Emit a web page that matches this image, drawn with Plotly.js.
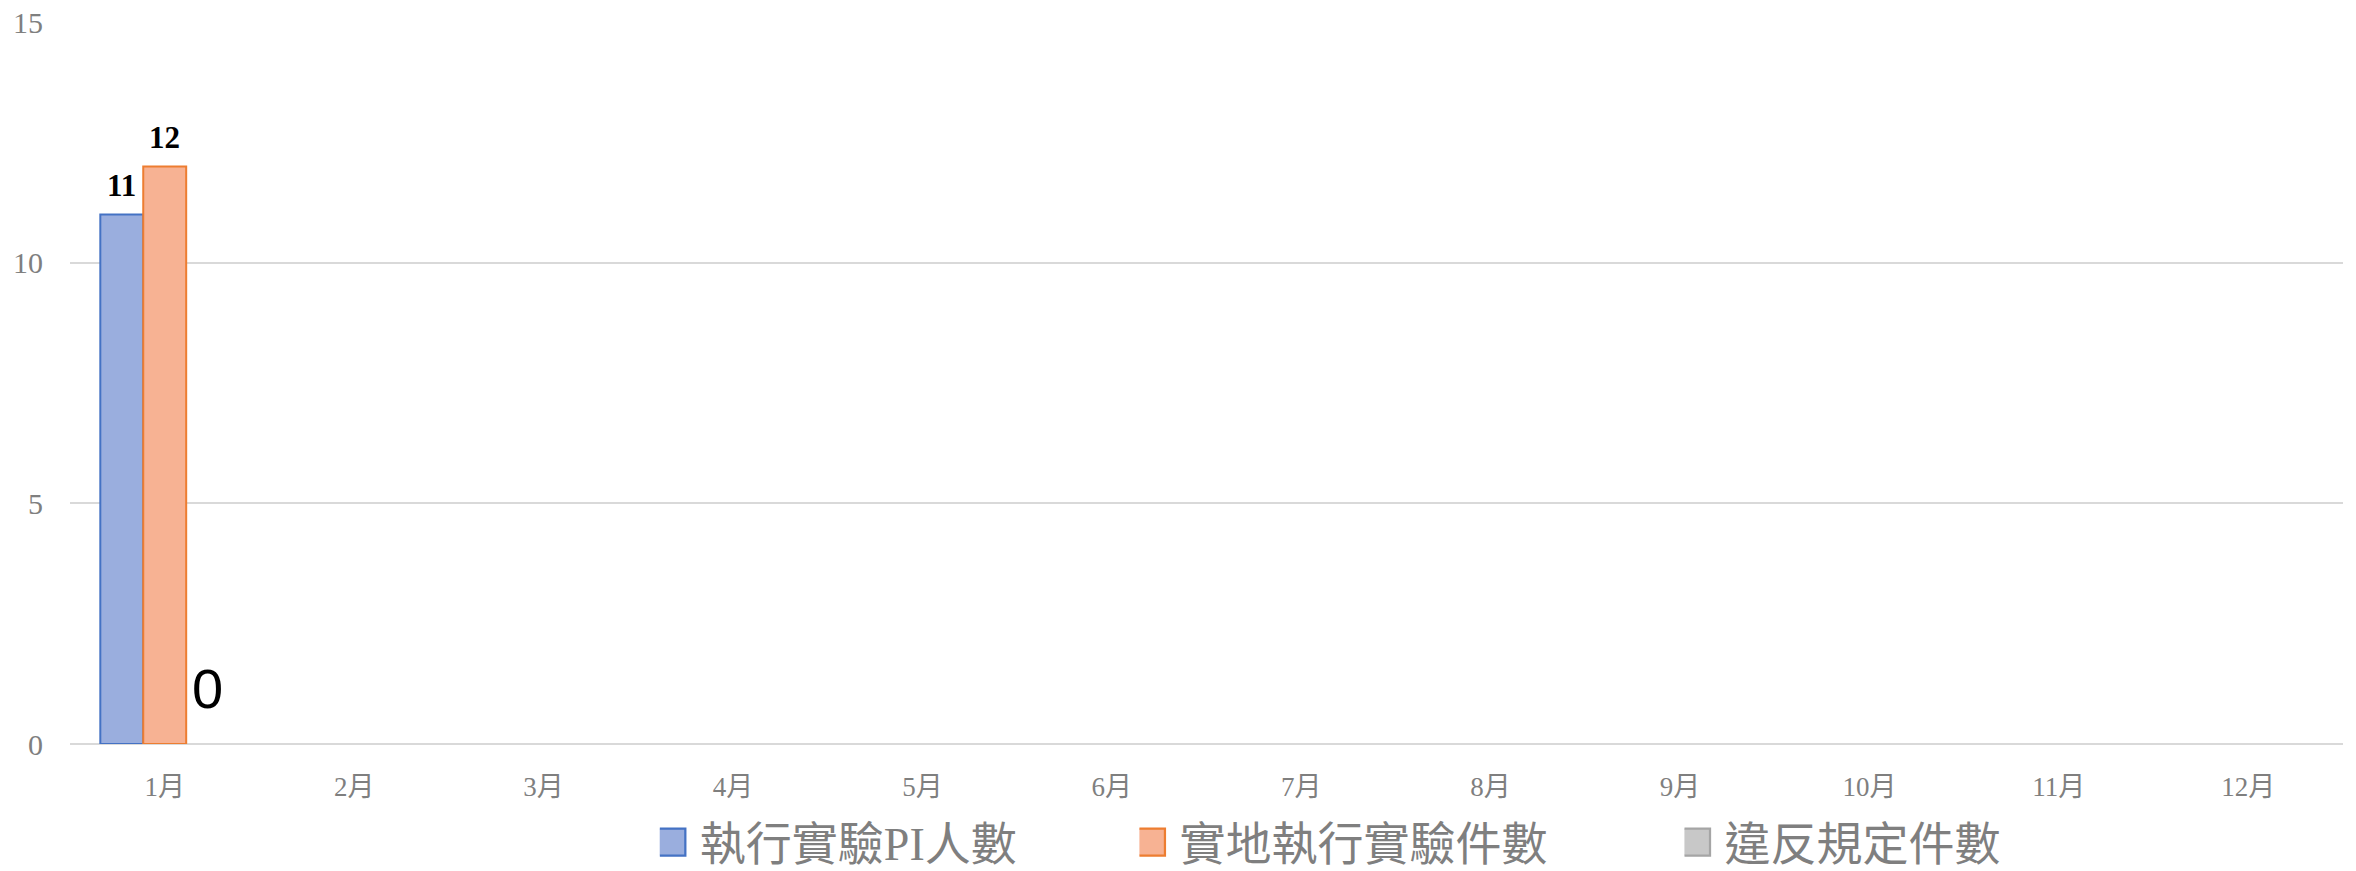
<!DOCTYPE html>
<html>
<head>
<meta charset="utf-8">
<script src="https://cdn.plot.ly/plotly-3.0.1.min.js"></script>
<style>
html,body{margin:0;padding:0;background:#fff;}
#chart{width:2356px;height:871px;}
</style>
</head>
<body>
<div id="chart"></div>
<script>
// ---- data ----
const months = ['1月','2月','3月','4月','5月','6月','7月','8月','9月','10月','11月','12月'];
const seriesNames = ['執行實驗PI人數','實地執行實驗件數','違反規定件數'];
const piCounts = [11, null, null, null, null, null, null, null, null, null, null, null];
const onsiteCounts = [12, null, null, null, null, null, null, null, null, null, null, null];
const violationCounts = [0, null, null, null, null, null, null, null, null, null, null, null];
const yTicks = [0, 5, 10, 15];

// ---- styles ----
const fills = ['#9aaede', '#f7b293', '#c8c8c8'];
const borders = ['#4472c4', '#ed7d31', '#a5a5a5'];
const labelFonts = [
  {family:'Liberation Serif, Times New Roman, serif', size:31, color:'#000', weight:'bold'},
  {family:'Liberation Serif, Times New Roman, serif', size:31, color:'#000', weight:'bold'},
  {family:'Liberation Sans, Arial, sans-serif', size:56, color:'#000'}
];
const labelLift = [29, 29, 56];
const margin = {l:70, r:13, t:22, b:127};
const W = 2356, H = 871;
const bargap = 0.32;
const serifCJK = "'Liberation Serif', 'Noto Sans CJK TC', serif";

const allValues = [piCounts, onsiteCounts, violationCounts];
const legendIds = ['legend', 'legend2', 'legend3'];
const legendX = [0.2595, 0.4705, 0.7103];

const traces = allValues.map((vals, i) => ({
  type: 'bar',
  name: seriesNames[i],
  x: months,
  y: vals,
  legend: legendIds[i],
  // no outline on zero-height bars
  marker: {color: fills[i], line: {color: borders[i], width: vals.map(v => (v ? 2 : 0))}},
  hoverinfo: 'x+y+name'
}));

// data labels built from the series values
const plotW = W - margin.l - margin.r;
const catW = plotW / months.length;
const barW = catW * (1 - bargap) / allValues.length;
const annotations = [];
allValues.forEach((vals, i) => {
  vals.forEach((v, j) => {
    if (v === null || v === undefined) return;
    annotations.push({
      x: months[j], y: v, xref: 'x', yref: 'y',
      text: String(v), showarrow: false,
      xanchor: 'center', yanchor: 'middle',
      xshift: (i - (allValues.length - 1) / 2) * barW,
      yshift: labelLift[i],
      font: labelFonts[i]
    });
  });
});

const legendBase = {
  orientation: 'h', xref: 'paper', yref: 'paper',
  xanchor: 'left', yanchor: 'middle', y: -0.136,
  bgcolor: 'rgba(0,0,0,0)', borderwidth: 0,
  font: {family: serifCJK, size: 46, color: '#7f7f7f'}
};

const layout = {
  width: W, height: H,
  margin: Object.assign({pad: 0, autoexpand: false}, margin),
  paper_bgcolor: '#fff', plot_bgcolor: '#fff',
  barmode: 'group', bargap: bargap, bargroupgap: 0,
  showlegend: true,
  xaxis: {
    type: 'category',
    categoryarray: months,
    showgrid: false, zeroline: false, showline: false,
    ticks: '', ticklabelstandoff: 24,
    tickfont: {family: serifCJK, size: 27, color: '#7f7f7f'}
  },
  yaxis: {
    range: [0, 15],
    tickvals: yTicks, ticktext: yTicks.map(String),
    showgrid: true, gridcolor: '#d9d9d9', gridwidth: 2,
    zeroline: true, zerolinecolor: '#d9d9d9', zerolinewidth: 2,
    showline: false, ticks: '', ticklabelstandoff: 26,
    tickfont: {family: "'Liberation Serif', serif", size: 30, color: '#7f7f7f'}
  },
  annotations: annotations
};
legendIds.forEach((id, i) => {
  layout[id] = Object.assign({}, legendBase, {x: legendX[i]});
});

Plotly.newPlot('chart', traces, layout, {displayModeBar: false, staticPlot: true}).then(gd => {
  // enlarge legend swatches to match the reference
  gd.querySelectorAll('.legendpoints path').forEach((p, i) => {
    const t = p.getAttribute('transform') || '';
    p.setAttribute('transform', t + ' translate(-8,0) scale(2.25)');
    p.style.strokeWidth = '1px';
    p.style.stroke = borders[i % borders.length];
  });
});
</script>
</body>
</html>
